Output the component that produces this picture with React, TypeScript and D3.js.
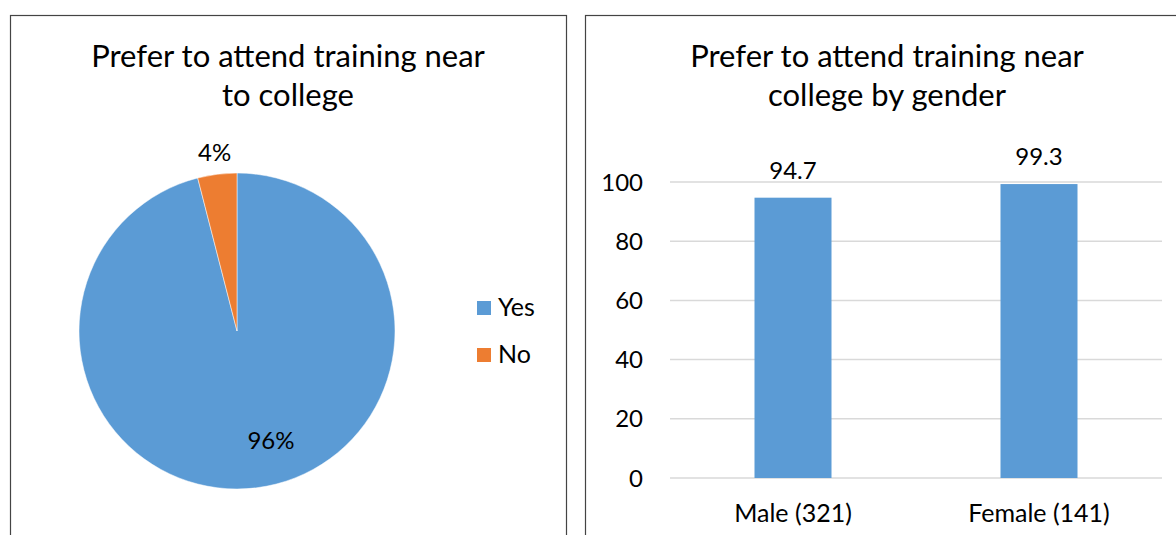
import React from "react";
import * as d3 from "d3";

const pieLabels = ["Yes", "No"];
const pieValues = [96, 4];
const pieColors = ["#5B9BD5", "#ED7D31"];

const barCategories = ["Male (321)", "Female (141)"];
const barValues = [94.7, 99.3];
const yTicks = [0, 20, 40, 60, 80, 100];

const leftTitle = ["Prefer to attend training near", "to college"];
const rightTitle = ["Prefer to attend training near", "college by gender"];

const FONT = "Lato, 'Open Sans', sans-serif";

export default function App() {
  const W = 1176;
  const H = 535;

  // Pie
  const cx = 237, cy = 331, r = 158;
  const pieGen = d3.pie<number>().sort(null).value((d) => d);
  const arcs = pieGen(pieValues);
  const arcGen = d3.arc<d3.PieArcDatum<number>>().innerRadius(0).outerRadius(r);

  // Bars
  const x = d3.scaleBand<string>().domain(barCategories).range([670, 1162]).paddingInner(0.687).paddingOuter(0.3435);
  const y = d3.scaleLinear().domain([0, 100]).range([478, 182]);

  const labelPos = (a: d3.PieArcDatum<number>, i: number) => {
    const mid = (a.startAngle + a.endAngle) / 2;
    const rr = i === 0 ? r * 0.72 : r + 20;
    return [cx + Math.sin(mid) * rr, cy - Math.cos(mid) * rr];
  };

  return (
    <svg width={W} height={H} style={{ position: "absolute", left: 0, top: 0, background: "#fff" }} fontFamily={FONT}>
      <rect x={0} y={0} width={W} height={H} fill="#fff" />
      {/* Left panel */}
      <rect x={10.5} y={15.5} width={556} height={540} fill="#fff" stroke="#444" strokeWidth={1.2} />
      {leftTitle.map((t, i) => (
        <text key={i} x={288} y={67 + i * 39} textAnchor="middle" fontSize={31} fill="#000">{t}</text>
      ))}
      <g>
        {arcs.map((a, i) => (
          <path key={i} d={arcGen(a) || ""} transform={`translate(${cx},${cy})`} fill={pieColors[i]} stroke="#fff" strokeWidth={0.5} />
        ))}
        {arcs.map((a, i) => {
          const [lx] = labelPos(a, i);
          return (
            <text key={"l" + i} x={i === 0 ? 271 : lx} y={i === 0 ? 449 : 161} textAnchor="middle" fontSize={24} fill="#000">
              {pieValues[i]}%
            </text>
          );
        })}
      </g>
      {pieLabels.map((l, i) => (
        <g key={l}>
          <rect x={477} y={301 + i * 47} width={14} height={14} fill={pieColors[i]} />
          <text x={498} y={316 + i * 47} fontSize={25} fill="#000">{l}</text>
        </g>
      ))}

      {/* Right panel */}
      <rect x={585.5} y={15.5} width={620} height={540} fill="#fff" stroke="#444" strokeWidth={1.2} />
      {rightTitle.map((t, i) => (
        <text key={i} x={887} y={67 + i * 39} textAnchor="middle" fontSize={31} fill="#000">{t}</text>
      ))}
      {yTicks.map((t) => (
        <g key={t}>
          <line x1={670} x2={1162} y1={y(t)} y2={y(t)} stroke="#d9d9d9" strokeWidth={1.5} />
          <text x={643} y={y(t) + 8.5} textAnchor="end" fontSize={24} fill="#000">{t}</text>
        </g>
      ))}
      {barCategories.map((c, i) => (
        <g key={c}>
          <rect x={x(c)} y={y(barValues[i])} width={x.bandwidth()} height={y(0) - y(barValues[i])} fill="#5B9BD5" />
          <text x={(x(c) || 0) + x.bandwidth() / 2} y={y(barValues[i]) - 19} textAnchor="middle" fontSize={24} fill="#000">
            {barValues[i]}
          </text>
          <text x={(x(c) || 0) + x.bandwidth() / 2} y={522} textAnchor="middle" fontSize={25} fill="#000">{c}</text>
        </g>
      ))}
    </svg>
  );
}
